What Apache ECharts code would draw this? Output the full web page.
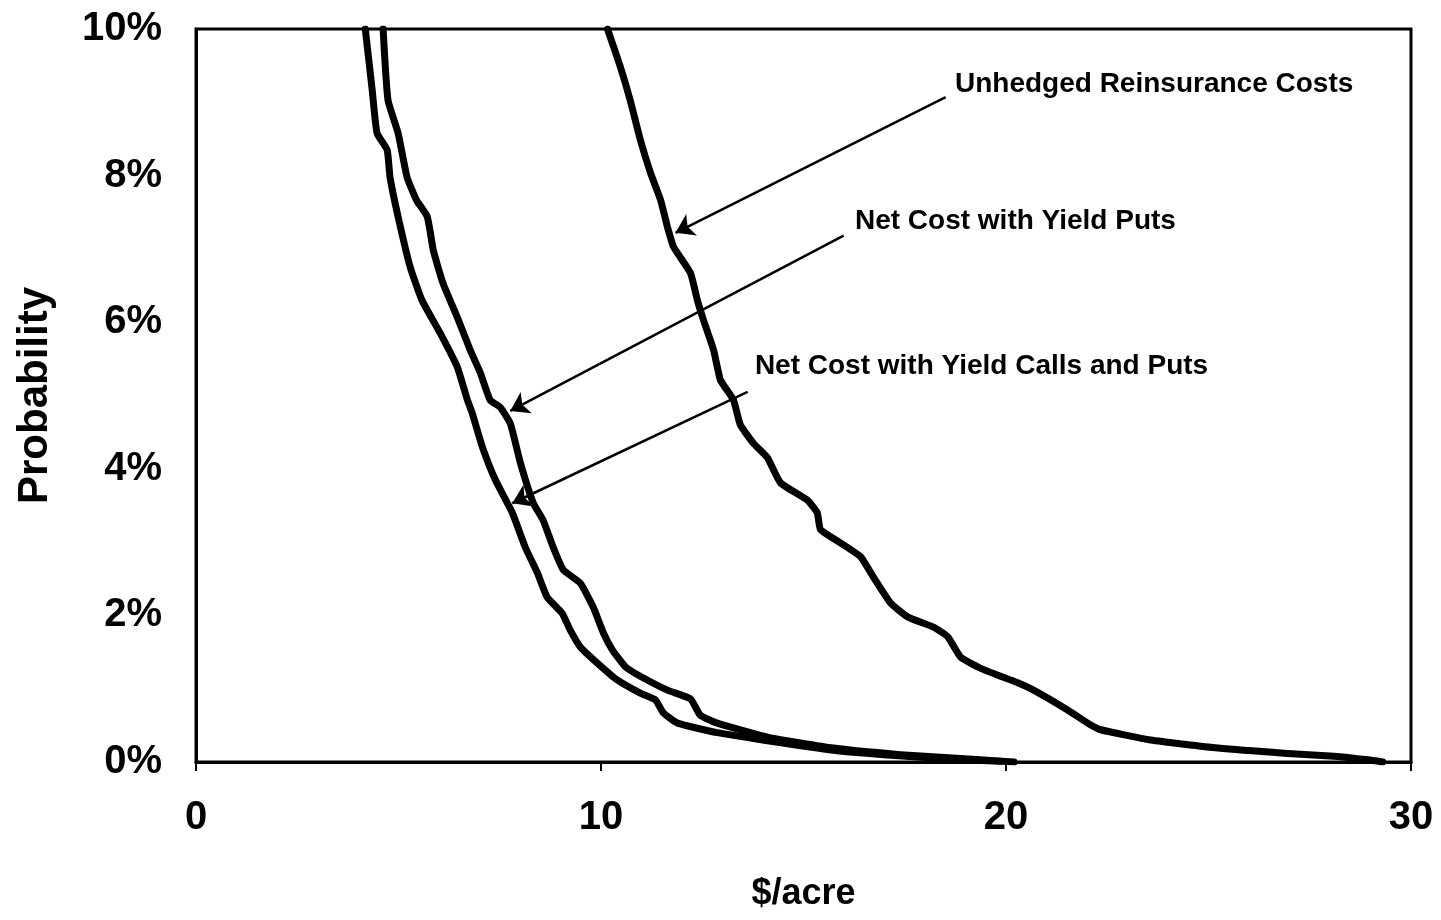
<!DOCTYPE html>
<html>
<head>
<meta charset="utf-8">
<script src="https://cdn.jsdelivr.net/npm/echarts@6/dist/echarts.min.js"></script>
<style>
html,body{margin:0;padding:0;background:#fff;}
#chart{width:1441px;height:920px;}
</style>
</head>
<body>
<div id="chart"></div>
<script>
// ---- data (x in $/acre, y in %) ----
const xTicks = [0, 10, 20, 30];
const yTicks = [0, 2, 4, 6, 8, 10];

const unhedged = [[10.16,10.0],[10.48,9.48],[10.72,9.03],[10.97,8.49],[11.22,8.04],[11.47,7.67],[11.64,7.30],[11.79,7.03],[12.21,6.67],[12.38,6.30],[12.53,6.03],[12.78,5.62],[12.95,5.21],[13.27,4.94],[13.44,4.60],[13.76,4.35],[14.11,4.15],[14.43,3.81],[15.10,3.57],[15.34,3.40],[15.42,3.17],[15.91,2.99],[16.41,2.80],[16.73,2.52],[17.15,2.17],[17.57,1.98],[18.21,1.84],[18.56,1.71],[18.88,1.43],[19.45,1.26],[20.29,1.08],[20.68,0.98],[21.52,0.71],[22.02,0.53],[22.34,0.44],[23.57,0.30],[25.23,0.19],[26.86,0.12],[28.10,0.08],[28.94,0.03],[29.3,0.0]];

const yieldPuts = [[4.62,10.0],[4.74,9.03],[4.99,8.58],[5.21,7.98],[5.44,7.67],[5.71,7.44],[5.86,6.98],[6.10,6.53],[6.45,6.07],[6.77,5.62],[7.02,5.31],[7.26,4.94],[7.51,4.84],[7.76,4.62],[8.01,4.08],[8.33,3.53],[8.57,3.30],[8.82,2.93],[9.07,2.62],[9.49,2.44],[9.81,2.11],[10.06,1.76],[10.28,1.53],[10.60,1.30],[10.97,1.17],[11.64,0.98],[12.21,0.86],[12.45,0.64],[12.87,0.53],[14.11,0.34],[15.74,0.19],[17.40,0.10],[19.37,0.03],[20.2,0.0]];

const callsAndPuts = [[4.18,10.0],[4.35,9.17],[4.47,8.58],[4.72,8.35],[4.79,7.98],[4.99,7.44],[5.29,6.75],[5.58,6.30],[6.03,5.85],[6.45,5.39],[6.70,4.94],[6.82,4.76],[7.07,4.30],[7.39,3.85],[7.81,3.40],[8.13,2.93],[8.43,2.58],[8.67,2.25],[9.04,2.03],[9.24,1.80],[9.49,1.57],[9.91,1.35],[10.40,1.12],[10.97,0.94],[11.34,0.85],[11.54,0.67],[11.89,0.53],[12.87,0.40],[14.11,0.29],[15.74,0.16],[16.98,0.10],[18.63,0.04],[19.87,0.01]];

// annotation labels: text, anchor (left-middle of text), arrow start, arrow tip
const annoNames = ['Unhedged Reinsurance Costs', 'Net Cost with Yield Puts', 'Net Cost with Yield Calls and Puts'];
const annoAnchor = [[18.74, 9.25], [16.27, 7.38], [13.80, 5.40]];
const arrowFrom = [[18.51, 9.07], [15.99, 7.18], [13.62, 5.05]];
const arrowTo = [[11.84, 7.22], [7.76, 4.79], [7.81, 3.53]];

const FONT = '"Liberation Sans", Arial, sans-serif';

const lineSeries = (name, data) => ({
  name, type: 'line', data, showSymbol: false, symbol: 'none', smooth: 0.15,
  lineStyle: {color: '#000', width: 7, join: 'round', cap: 'round'},
  clip: true, z: 3
});

const chart = echarts.init(document.getElementById('chart'), null, {renderer: 'canvas'});
chart.setOption({
  animation: false,
  backgroundColor: '#fff',
  grid: {left: 196, right: 30, top: 29, bottom: 158, show: true, borderColor: '#000', borderWidth: 3, backgroundColor: 'transparent'},
  xAxis: {
    type: 'value', min: xTicks[0], max: xTicks[xTicks.length - 1], interval: 10,
    name: '$/acre', nameLocation: 'middle', nameGap: 114,
    nameTextStyle: {fontFamily: FONT, fontWeight: 'bold', fontSize: 36, color: '#000'},
    axisLine: {show: true, lineStyle: {color: '#000', width: 3}},
    axisTick: {show: true, inside: false, length: 9, lineStyle: {color: '#000', width: 2}},
    axisLabel: {fontFamily: FONT, fontWeight: 'bold', fontSize: 40, color: '#000', margin: 36},
    splitLine: {show: false}
  },
  yAxis: {
    type: 'value', min: yTicks[0], max: yTicks[yTicks.length - 1], interval: 2,
    name: 'Probability', nameLocation: 'middle', nameGap: 140,
    nameTextStyle: {fontFamily: FONT, fontWeight: 'bold', fontSize: 42, color: '#000'},
    axisLine: {show: true, lineStyle: {color: '#000', width: 3}},
    axisTick: {show: false},
    axisLabel: {fontFamily: FONT, fontWeight: 'bold', fontSize: 40, color: '#000', margin: 34, formatter: '{value}%'},
    splitLine: {show: false}
  },
  series: [
    lineSeries('Unhedged Reinsurance Costs', unhedged),
    lineSeries('Net Cost with Yield Puts', yieldPuts),
    lineSeries('Net Cost with Yield Calls and Puts', callsAndPuts),
    {
      name: 'annotations', type: 'scatter', symbolSize: 0, z: 5,
      itemStyle: {opacity: 1, color: '#000'},
      data: annoNames.map((n, i) => ({name: n, value: annoAnchor[i]})),
      label: {show: true, position: 'right', distance: 0, formatter: p => p.name, opacity: 1,
        fontFamily: FONT, fontWeight: 'bold', fontSize: 28, color: '#000000'},
      markLine: {
        silent: true, symbol: ['none', 'arrow'], symbolSize: 18,
        lineStyle: {color: '#000', width: 2.5, type: 'solid', opacity: 1},
        label: {show: false},
        data: arrowFrom.map((f, i) => [{coord: f}, {coord: arrowTo[i]}])
      }
    }
  ]
});
</script>
</body>
</html>
